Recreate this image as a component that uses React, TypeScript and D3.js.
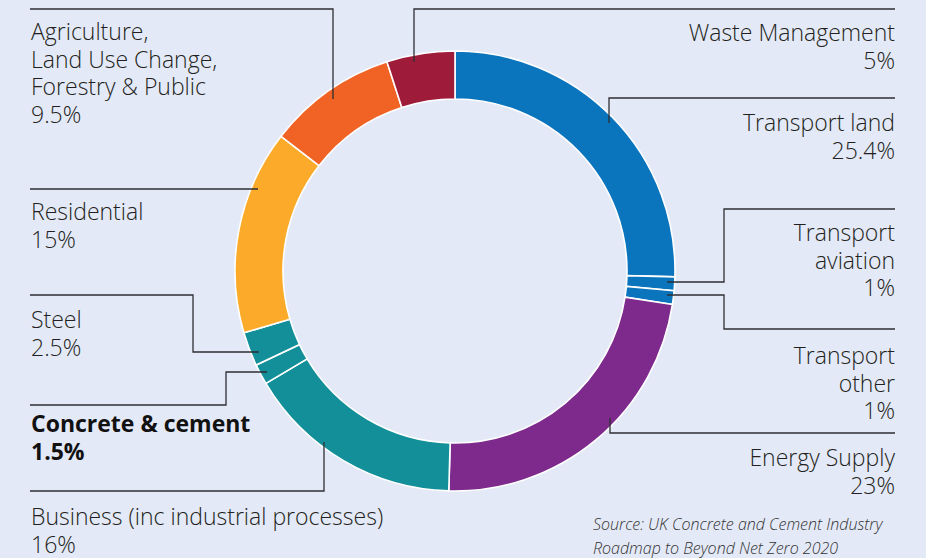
import React from "react";
import * as d3 from "d3";

const categories = [
  "Transport land",
  "Transport aviation",
  "Transport other",
  "Energy Supply",
  "Business (inc industrial processes)",
  "Concrete & cement",
  "Steel",
  "Residential",
  "Agriculture, Land Use Change, Forestry & Public",
  "Waste Management",
];
const values = [25.4, 1, 1, 23, 16, 1.5, 2.5, 15, 9.5, 5];
const valueLabels = ["25.4%", "1%", "1%", "23%", "16%", "1.5%", "2.5%", "15%", "9.5%", "5%"];
const colors = [
  "#0a74bd", "#0a74bd", "#0a74bd", "#7e2a8c", "#138f99",
  "#138f99", "#138f99", "#fbab29", "#f06325", "#9f1b3a",
];
const labelLines = [
  ["Transport land"],
  ["Transport", "aviation"],
  ["Transport", "other"],
  ["Energy Supply"],
  ["Business (inc industrial processes)"],
  ["Concrete & cement"],
  ["Steel"],
  ["Residential"],
  ["Agriculture,", "Land Use Change,", "Forestry & Public"],
  ["Waste Management"],
];
const sourceLines = ["Source: UK Concrete and Cement Industry", "Roadmap to Beyond Net Zero 2020"];

// layout (positions) kept separate from data
const W = 926, H = 558;
const cx = 455, cy = 271, rOuter = 220, rInner = 172;
const layout = [
  { anchor: "end", x: 895, y: 131, leader: [[609, 123], [609, 98], [895, 98]] },
  { anchor: "end", x: 895, y: 241, leader: [[667, 282], [724, 282], [724, 209], [895, 209]] },
  { anchor: "end", x: 895, y: 364, leader: [[667, 295], [724, 295], [724, 329], [895, 329]] },
  { anchor: "end", x: 895, y: 466, leader: [[610, 418], [610, 433], [895, 433]] },
  { anchor: "start", x: 31, y: 525, leader: [[324, 442], [324, 491], [30, 491]] },
  { anchor: "start", x: 31, y: 432, leader: [[267, 372], [226, 372], [226, 405], [30, 405]], bold: true },
  { anchor: "start", x: 31, y: 328, leader: [[259, 352], [193, 352], [193, 295], [30, 295]] },
  { anchor: "start", x: 31, y: 220, leader: [[258, 189], [30, 189]] },
  { anchor: "start", x: 31, y: 40, leader: [[333, 99], [333, 9], [30, 9]] },
  { anchor: "end", x: 895, y: 41, leader: [[414, 62], [414, 9], [895, 9]] },
];

const FONT = "'Open Sans', 'DejaVu Sans', sans-serif";

export default function App() {
  const pie = d3.pie<number>().sort(null).value((d) => d).startAngle(0).endAngle(2 * Math.PI);
  const arcs = pie(values);
  const arcGen = d3.arc<d3.PieArcDatum<number>>().innerRadius(rInner).outerRadius(rOuter);
  const line = d3.line();
  const lh = 27.5;
  return (
    <svg width={W} height={H} style={{ position: "absolute", left: 0, top: 0, display: "block" }}>
      <rect x={0} y={0} width={W} height={H} fill="#e4e9f7" />
      <g transform={`translate(${cx},${cy})`}>
        {arcs.map((a, i) => (
          <path key={i} d={arcGen(a) || ""} fill={colors[i]} stroke="#ffffff" strokeWidth={1.6} />
        ))}
      </g>
      {layout.map((l, i) => (
        <path key={"l" + i} d={line(l.leader as [number, number][]) || ""} fill="none" stroke="#2e2e33" strokeWidth={1.3} />
      ))}
      {layout.map((l, i) => {
        const lines = [...labelLines[i], valueLabels[i]];
        return (
          <text
            key={"t" + i}
            x={l.x}
            y={l.y}
            textAnchor={l.anchor as any}
            fontFamily={FONT}
            fontSize={23}
            fontWeight={l.bold ? 700 : 300}
            fill={l.bold ? "#111" : "#231f20"}
          >
            {lines.map((s, j) => (
              <tspan key={j} x={l.x} y={l.y + j * lh}>{s}</tspan>
            ))}
          </text>
        );
      })}
      {sourceLines.map((s, j) => (
        <text key={"s" + j} x={593} y={530 + j * 24} fontFamily={FONT} fontSize={16} fontStyle="italic" fontWeight={300} fill="#333">
          {s}
        </text>
      ))}
    </svg>
  );
}
